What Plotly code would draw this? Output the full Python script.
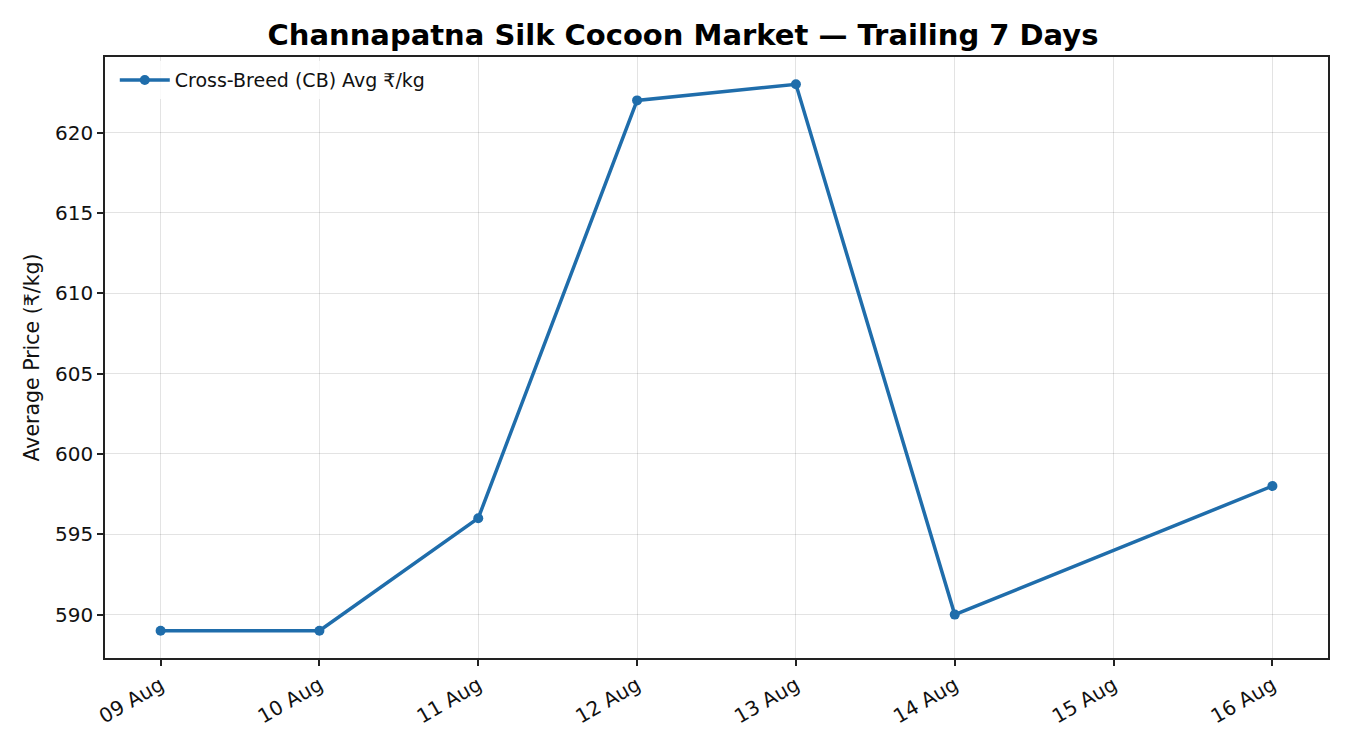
import pandas as pd
import plotly.graph_objects as go

# trailing 7 days of cross-breed cocoon prices (15 Aug: no market)
dates = ["2024-08-09", "2024-08-10", "2024-08-11", "2024-08-12",
         "2024-08-13", "2024-08-14", "2024-08-16"]
avg_price = [589, 589, 596, 622, 623, 590, 598]
tick_dates = ["2024-08-09", "2024-08-10", "2024-08-11", "2024-08-12",
              "2024-08-13", "2024-08-14", "2024-08-15", "2024-08-16"]
tick_labels = ["09 Aug", "10 Aug", "11 Aug", "12 Aug",
               "13 Aug", "14 Aug", "15 Aug", "16 Aug"]
y_ticks = [590, 595, 600, 605, 610, 615, 620]

x = pd.to_datetime(dates)
line_color = "#1f6dab"
font = "DejaVu Sans, Arial, sans-serif"

fig = go.Figure()
fig.add_trace(go.Scatter(
    x=x, y=avg_price, mode="lines+markers",
    name="Cross-Breed (CB) Avg ₹/kg",
    line=dict(color=line_color, width=3.5),
    marker=dict(color=line_color, size=10),
))

# 5% padding like matplotlib autoscale
x0, x1 = pd.Timestamp(tick_dates[0]), pd.Timestamp(tick_dates[-1])
pad = (x1 - x0) * 0.05
ymin, ymax = min(avg_price), max(avg_price)
ypad = (ymax - ymin) * 0.05

axis_common = dict(
    showline=True, linecolor="#222", linewidth=1.6, mirror=True,
    ticks="outside", ticklen=6, tickwidth=1.6, tickcolor="#222",
    showgrid=True, gridcolor="rgba(0,0,0,0.11)", gridwidth=1.2,
    zeroline=False, tickfont=dict(family=font, size=20, color="#111"),
)

fig.update_layout(
    width=1350, height=750,
    paper_bgcolor="white", plot_bgcolor="white",
    margin=dict(l=97, r=30, t=49, b=100),
    title=dict(text="<b>Channapatna Silk Cocoon Market — Trailing 7 Days</b>",
               x=0.5, xanchor="center", y=0.964, yanchor="middle",
               font=dict(family=font, size=29, color="black")),
    xaxis=dict(**axis_common, type="date",
               range=[x0 - pad, x1 + pad],
               tickmode="array", tickvals=pd.to_datetime(tick_dates),
               ticktext=tick_labels, tickangle=-30),
    yaxis=dict(**axis_common, range=[ymin - ypad, ymax + ypad],
               tickmode="array", tickvals=y_ticks,
               title=dict(text="Average Price (₹/kg)", standoff=10,
                          font=dict(family=font, size=20.5, color="#111"))),
    legend=dict(x=0.008, y=0.993, xanchor="left", yanchor="top",
                itemwidth=50,
                bgcolor="rgba(255,255,255,0.8)", borderwidth=0,
                font=dict(family=font, size=19, color="#111")),
    showlegend=True,
)

fig.write_html("out.html")
